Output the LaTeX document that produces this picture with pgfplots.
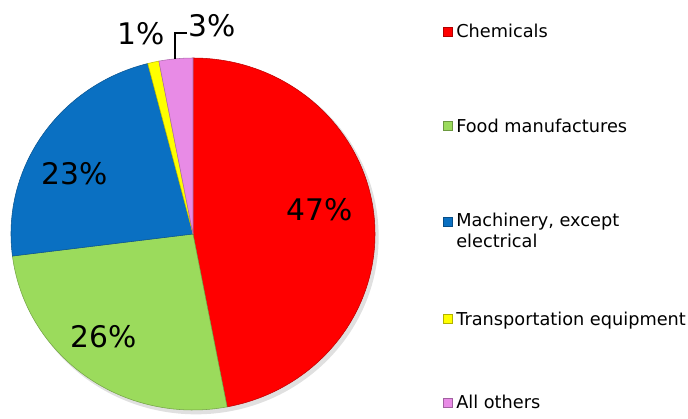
\documentclass[border=0pt]{standalone}
\usepackage{pgfplots}
\usepackage{pgfplotstable}
\pgfplotsset{compat=1.18}
\usepackage{fontspec}
\setmainfont{DejaVu Sans}
\definecolor{c0}{HTML}{FF0000}
\definecolor{c1}{HTML}{9BDB5C}
\definecolor{c2}{HTML}{0A70C2}
\definecolor{c3}{HTML}{FFFF00}
\definecolor{c4}{HTML}{E88BE6}
\pgfplotstableread{
label value
Chemicals 47
Food 26
Machinery 23
Transportation 1
Others 3
}\piedata
\begin{document}
\begin{tikzpicture}
\begin{axis}[
  scale only axis, width=516pt, height=313.5pt,
  xmin=0, xmax=688, ymin=0, ymax=418,
  hide axis, clip=false]
\addplot[draw=none] coordinates {(0,0) (688,418)};
\fill[black!12] (axis cs:196,181) ellipse[x radius=137pt, y radius=133pt];
\pgfmathsetmacro\startang{90}
\pgfplotsforeachungrouped \i in {0,...,4}{%
  \pgfplotstablegetelem{\i}{value}\of\piedata
  \pgfmathsetmacro\endang{\startang-3.6*\pgfplotsretval}%
  \edef\temp{\noexpand\fill[c\i, draw=c\i!75!black, line width=0.4pt] (axis cs:193,184) -- ++(\startang:136.5pt and 132pt) arc[start angle=\startang, end angle=\endang, x radius=136.5pt, y radius=132pt] -- cycle;}%
  \temp
  \global\let\startang\endang
}
% percentage labels
\node[anchor=base, font=\fontsize{22.3}{24}\selectfont] at (axis cs:320,198) {47\%};
\node[anchor=base, font=\fontsize{22.3}{24}\selectfont] at (axis cs:103.5,71) {26\%};
\node[anchor=base, font=\fontsize{22.3}{24}\selectfont] at (axis cs:75,233) {23\%};
\node[anchor=base, font=\fontsize{22.3}{24}\selectfont] at (axis cs:141,373) {1\%};
\node[anchor=base, font=\fontsize{22.3}{24}\selectfont] at (axis cs:212.5,381) {3\%};
\draw[black, line width=1.1pt] (axis cs:175,359) -- (axis cs:175,385) -- (axis cs:187,385);
% legend
\fill[c0, draw=c0!70!black, line width=0.4pt] (axis cs:443.5,381.5) rectangle (axis cs:452.5,390.5);
\fill[c1, draw=c1!70!black, line width=0.4pt] (axis cs:443.5,287.5) rectangle (axis cs:452.5,296.5);
\fill[c2, draw=c2!70!black, line width=0.4pt] (axis cs:443.5,191.5) rectangle (axis cs:452.5,200.5);
\fill[c3, draw=c3!70!black, line width=0.4pt] (axis cs:443.5,94.5) rectangle (axis cs:452.5,103.5);
\fill[c4, draw=c4!70!black, line width=0.4pt] (axis cs:443.5,11) rectangle (axis cs:452.5,20);
\node[anchor=base west, inner sep=0pt, font=\fontsize{13.3}{15}\selectfont] at (axis cs:456,380) {Chemicals};
\node[anchor=base west, inner sep=0pt, font=\fontsize{13.3}{15}\selectfont] at (axis cs:456,285) {Food manufactures};
\node[anchor=base west, inner sep=0pt, font=\fontsize{13.3}{15}\selectfont] at (axis cs:456,191) {Machinery, except};
\node[anchor=base west, inner sep=0pt, font=\fontsize{13.3}{15}\selectfont] at (axis cs:456,171) {electrical};
\node[anchor=base west, inner sep=0pt, font=\fontsize{13.3}{15}\selectfont] at (axis cs:456,93) {Transportation equipment};
\node[anchor=base west, inner sep=0pt, font=\fontsize{13.3}{15}\selectfont] at (axis cs:456,10) {All others};
\end{axis}
\end{tikzpicture}
\end{document}
